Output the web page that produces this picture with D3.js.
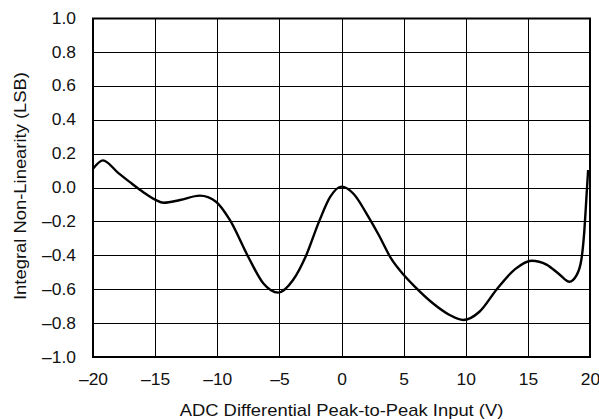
<!DOCTYPE html>
<html>
<head>
<meta charset="utf-8">
<script src="https://cdn.jsdelivr.net/npm/d3@7"></script>
<style>
  body { margin: 0; background: #fff; }
  svg { display: block; }
  text { font-family: "Liberation Sans", Arial, Helvetica, sans-serif; fill: #111; }
</style>
</head>
<body>
<svg width="599" height="419"></svg>
<script>
// values
var inputV = [-20, -19.2, -18, -17, -16, -15, -14.3, -13, -11.4, -10.1, -9, -7.5, -6.3, -5.1, -3.9,
              -2.9, -1.8, -0.9, 0, 1, 2, 3, 4, 5, 5.9, 7.35, 8.7, 9.8, 11.1, 12.5, 14, 15.3,
              16.5, 17.5, 18.35, 18.9, 19.3, 19.55, 19.7, 19.85];
var inlLsb = [0.11, 0.16, 0.088, 0.03, -0.025, -0.072, -0.09, -0.074, -0.048, -0.084, -0.19, -0.41, -0.565, -0.62, -0.546,
              -0.41, -0.2, -0.054, 0.005, -0.04, -0.152, -0.28, -0.42, -0.515, -0.585, -0.683, -0.752, -0.782, -0.733, -0.6, -0.48, -0.432,
              -0.455, -0.51, -0.556, -0.52, -0.428, -0.25, -0.074, 0.103];
var xTicks = [-20, -15, -10, -5, 0, 5, 10, 15, 20];
var yTicks = [-1.0, -0.8, -0.6, -0.4, -0.2, 0.0, 0.2, 0.4, 0.6, 0.8, 1.0];
var xTitle = "ADC Differential Peak-to-Peak Input (V)";
var yTitle = "Integral Non-Linearity (LSB)";

var svg = d3.select("svg"),
    plotL = 93, plotR = 590, plotT = 18, plotB = 357;

var x = d3.scaleLinear().domain([-20, 20]).range([plotL, plotR]);
var y = d3.scaleLinear().domain([-1, 1]).range([plotB, plotT]);

var data = inputV.map(function(v, i) { return [v, inlLsb[i]]; });

function fmt(d, n) {
  return d3.format("." + n + "f")(d).replace("−", "–").replace("-", "–");
}

// grid
var grid = svg.append("g");
grid.selectAll(".gx").data(xTicks.slice(1, -1)).enter().append("line")
    .attr("x1", function(d) { return Math.round(x(d)) + 0.5; })
    .attr("x2", function(d) { return Math.round(x(d)) + 0.5; })
    .attr("y1", plotT).attr("y2", plotB)
    .attr("stroke", "#000").attr("stroke-width", 1);
grid.selectAll(".gy").data(yTicks.slice(1, -1)).enter().append("line")
    .attr("y1", function(d) { return Math.round(y(d)) + 0.5; })
    .attr("y2", function(d) { return Math.round(y(d)) + 0.5; })
    .attr("x1", plotL).attr("x2", plotR)
    .attr("stroke", "#000").attr("stroke-width", 1);

// curve
svg.append("defs").append("clipPath").attr("id", "clip")
  .append("rect").attr("x", plotL).attr("y", plotT)
  .attr("width", plotR - plotL).attr("height", plotB - plotT);

var line = d3.line()
    .x(function(d) { return x(d[0]); })
    .y(function(d) { return y(d[1]); })
    .curve(d3.curveMonotoneX);

svg.append("path")
    .datum(data)
    .attr("clip-path", "url(#clip)")
    .attr("fill", "none")
    .attr("stroke", "#000")
    .attr("stroke-width", 2.4)
    .attr("stroke-linejoin", "round")
    .attr("d", line);

// frame
svg.append("rect")
    .attr("x", plotL).attr("y", plotT + 0.5)
    .attr("width", plotR - plotL).attr("height", plotB - plotT - 0.5)
    .attr("fill", "none").attr("stroke", "#000").attr("stroke-width", 2);

// axes
var yAxis = d3.axisLeft(y).tickValues(yTicks).tickSize(0).tickPadding(17)
    .tickFormat(function(d) { return fmt(d, 1); });
var xAxis = d3.axisBottom(x).tickValues(xTicks).tickSize(0).tickPadding(17)
    .tickFormat(function(d) { return fmt(d, 0); });

var gy = svg.append("g").attr("transform", "translate(" + plotL + ",0)").call(yAxis);
var gx = svg.append("g").attr("transform", "translate(0," + plotB + ")").call(xAxis);
[gx, gy].forEach(function(g) {
  g.select(".domain").remove();
  g.selectAll("text")
      .style("font-size", "16px")
      .style("font-family", "'Liberation Sans', Arial, sans-serif")
      .attr("fill", "#111");
});
gy.selectAll(".tick text").attr("transform", "scale(1.09,1)").attr("x", -17 / 1.09);
gx.selectAll(".tick text").attr("transform", "scale(1.09,1)");

// titles
svg.append("text")
    .attr("transform", "translate(341.5,416) scale(1.15,1)")
    .attr("text-anchor", "middle")
    .style("font-size", "16px")
    .text(xTitle);

svg.append("text")
    .attr("transform", "translate(26,186) rotate(-90) scale(1.15,1)")
    .attr("text-anchor", "middle")
    .style("font-size", "16px")
    .text(yTitle);
</script>
</body>
</html>
